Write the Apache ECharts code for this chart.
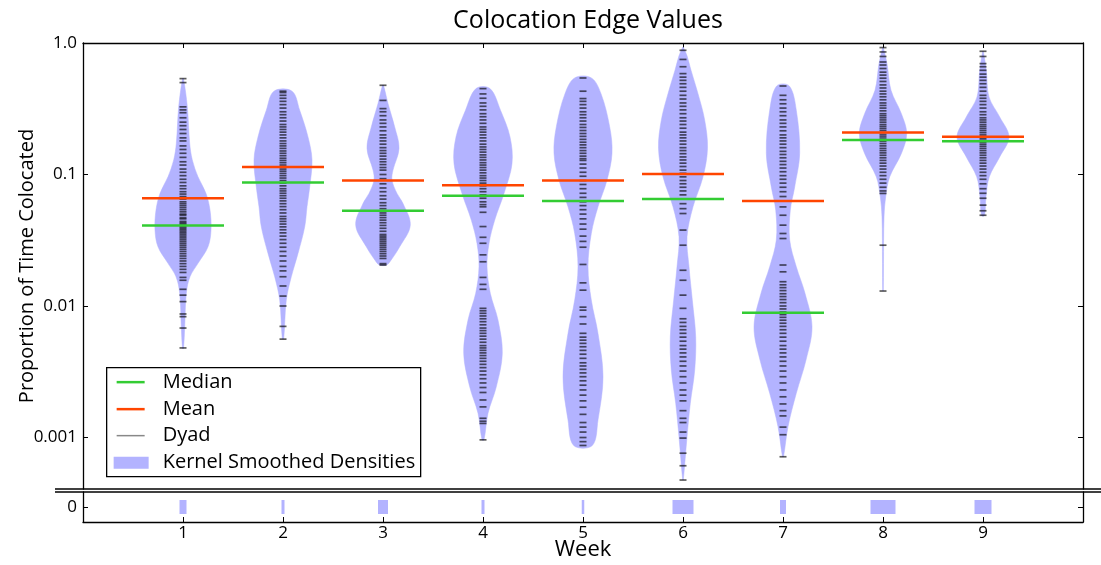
<!DOCTYPE html>
<html><head><meta charset="utf-8">
<script src="https://cdn.jsdelivr.net/npm/echarts@6/dist/echarts.min.js"></script>
<style>html,body{margin:0;padding:0;background:#fff}#c{width:1101px;height:565px}</style>
</head><body><div id="c"></div>
<script>
// ---------------- data ----------------
const weeks = [1, 2, 3, 4, 5, 6, 7, 8, 9];
const medians = [0.041, 0.087, 0.053, 0.069, 0.063, 0.065, 0.0089, 0.183, 0.179];
const means   = [0.066, 0.114, 0.090, 0.083, 0.090, 0.101, 0.063, 0.209, 0.194];
// share of dyads with zero colocation (drawn as bar width in the lower panel)
const zeroShare = [0.07, 0.03, 0.10, 0.03, 0.025, 0.21, 0.06, 0.25, 0.17];
const yTickValues = [0.001, 0.01, 0.1, 1.0];
const yTickLabels = ['0.001', '0.01', '0.1', '1.0'];
const yLowestShown = 0.000406;

// kernel density profiles: [value, half width in week units]
const density1 = [[0.536,0.005],[0.327,0.043],[0.172,0.067],[0.129,0.093],[0.096,0.15],[0.0718,0.23],[0.0536,0.27],[0.0378,0.28],[0.0282,0.25],[0.0211,0.15],[0.0167,0.07],[0.0125,0.033],[0.00695,0.017],[0.00476,0.005]];
const density2 = [[0.43,0.09],[0.308,0.167],[0.193,0.25],[0.129,0.29],[0.0805,0.267],[0.0568,0.24],[0.040,0.217],[0.0251,0.15],[0.0167,0.083],[0.0111,0.033],[0.00564,0.007]];
const density3 = [[0.477,0.005],[0.346,0.05],[0.23,0.117],[0.158,0.16],[0.108,0.10],[0.0906,0.09],[0.0718,0.14],[0.0603,0.20],[0.0412,0.273],[0.0282,0.167],[0.0223,0.08],[0.0205,0.035]];
const density4 = [[0.45,0.07],[0.308,0.175],[0.193,0.27],[0.121,0.29],[0.0718,0.21],[0.045,0.117],[0.0299,0.06],[0.0199,0.04],[0.0125,0.073],[0.00782,0.15],[0.00437,0.193],[0.00243,0.133],[0.00153,0.05],[0.00096,0.01]];
const density5 = [[0.543,0.083],[0.412,0.18],[0.23,0.267],[0.145,0.29],[0.0906,0.24],[0.0568,0.15],[0.0356,0.083],[0.0199,0.05],[0.0111,0.083],[0.00619,0.15],[0.0029,0.20],[0.00136,0.15],[0.00087,0.093]];
const density6 = [[0.93,0.003],[0.80,0.04],[0.621,0.08],[0.412,0.15],[0.259,0.217],[0.158,0.245],[0.096,0.20],[0.0568,0.10],[0.0336,0.04],[0.0199,0.06],[0.0111,0.093],[0.00583,0.127],[0.00326,0.117],[0.00182,0.073],[0.00101,0.04],[0.000475,0.003]];
const density7 = [[0.471,0.063],[0.308,0.133],[0.145,0.167],[0.0805,0.117],[0.0536,0.073],[0.0317,0.067],[0.0199,0.133],[0.0125,0.22],[0.00695,0.29],[0.00388,0.23],[0.00217,0.133],[0.00121,0.05],[0.000714,0.005]];
const density8 = [[0.923,0.003],[0.697,0.04],[0.437,0.08],[0.291,0.183],[0.205,0.237],[0.144,0.183],[0.096,0.067],[0.0676,0.027],[0.0476,0.01],[0.0211,0.005],[0.013,0.003]];
const density9 = [[0.865,0.003],[0.621,0.033],[0.389,0.06],[0.274,0.167],[0.193,0.26],[0.136,0.167],[0.096,0.063],[0.0676,0.03],[0.0488,0.015]];

// individual dyad values (proportion of time colocated)
const dyads1 = [0.536,0.50,0.327,0.31,0.295,0.27,0.25,0.235,0.22,0.205,0.19,0.18,0.165,0.155,0.145,0.135,0.125,0.118,0.11,0.104,0.098,0.092,0.087,0.082,0.078,0.074,0.071,0.068,0.065,0.062,0.060,0.058,0.056,0.054,0.052,0.050,0.049,0.047,0.046,0.044,0.043,0.042,0.041,0.040,0.039,0.038,0.037,0.036,0.035,0.034,0.033,0.032,0.031,0.030,0.029,0.028,0.027,0.026,0.025,0.024,0.023,0.022,0.021,0.020,0.019,0.018,0.0165,0.0157,0.0134,0.0121,0.0108,0.0087,0.0083,0.0068,0.0048];
const dyads2 = [0.43,0.42,0.40,0.38,0.36,0.34,0.32,0.30,0.285,0.27,0.255,0.24,0.23,0.22,0.21,0.20,0.19,0.18,0.172,0.165,0.158,0.151,0.145,0.139,0.133,0.128,0.123,0.118,0.114,0.110,0.106,0.102,0.098,0.094,0.090,0.086,0.082,0.078,0.075,0.072,0.069,0.066,0.063,0.060,0.057,0.054,0.051,0.048,0.046,0.044,0.042,0.040,0.038,0.036,0.034,0.032,0.030,0.028,0.026,0.024,0.022,0.020,0.0185,0.0167,0.0142,0.0119,0.0100,0.0070,0.0056];
const dyads3 = [0.477,0.366,0.317,0.30,0.28,0.26,0.245,0.23,0.215,0.20,0.19,0.18,0.17,0.16,0.152,0.145,0.138,0.131,0.125,0.119,0.113,0.108,0.100,0.093,0.085,0.079,0.074,0.069,0.065,0.061,0.058,0.055,0.053,0.051,0.049,0.047,0.045,0.043,0.041,0.039,0.037,0.035,0.034,0.033,0.032,0.031,0.030,0.029,0.028,0.027,0.026,0.025,0.024,0.023,0.021,0.0205];
const dyads4 = [0.45,0.41,0.38,0.35,0.33,0.31,0.29,0.275,0.26,0.245,0.23,0.22,0.21,0.20,0.19,0.18,0.17,0.162,0.155,0.148,0.141,0.135,0.129,0.123,0.118,0.113,0.108,0.103,0.098,0.094,0.090,0.086,0.082,0.078,0.074,0.070,0.066,0.062,0.059,0.0568,0.0516,0.0402,0.0333,0.030,0.0245,0.0217,0.0165,0.0146,0.0134,0.0096,0.0092,0.0088,0.0084,0.0080,0.0076,0.0072,0.0068,0.0065,0.0062,0.0059,0.0056,0.0053,0.0050,0.0048,0.0046,0.0044,0.0042,0.0040,0.0038,0.0036,0.0034,0.0032,0.0030,0.0028,0.0026,0.0024,0.0022,0.00193,0.00171,0.0014,0.00133,0.00128,0.00096];
const dyads5 = [0.542,0.43,0.378,0.36,0.34,0.32,0.30,0.285,0.27,0.255,0.24,0.228,0.216,0.205,0.195,0.185,0.176,0.168,0.16,0.152,0.145,0.138,0.132,0.128,0.12,0.112,0.104,0.097,0.09,0.084,0.078,0.072,0.067,0.062,0.058,0.054,0.05,0.046,0.042,0.0384,0.034,0.031,0.028,0.0207,0.0150,0.0132,0.0098,0.0093,0.0083,0.0073,0.0062,0.0058,0.0055,0.0052,0.0049,0.0046,0.0043,0.0040,0.0037,0.0035,0.0033,0.0031,0.0029,0.0027,0.0025,0.0023,0.0021,0.0019,0.0017,0.0015,0.0013,0.0012,0.0011,0.0010,0.00093,0.00087];
const dyads6 = [0.88,0.75,0.66,0.585,0.55,0.52,0.49,0.46,0.43,0.40,0.375,0.35,0.33,0.31,0.29,0.27,0.255,0.24,0.225,0.21,0.20,0.19,0.18,0.17,0.16,0.152,0.144,0.136,0.129,0.122,0.115,0.108,0.102,0.096,0.090,0.085,0.080,0.075,0.070,0.065,0.060,0.055,0.0505,0.0378,0.029,0.0187,0.0157,0.0121,0.0096,0.0080,0.0075,0.0070,0.0066,0.0062,0.0058,0.0054,0.0050,0.0047,0.0044,0.0041,0.0038,0.0035,0.0032,0.0029,0.0026,0.0023,0.0021,0.0019,0.0016,0.0014,0.0013,0.0011,0.00099,0.00076,0.00061,0.000475];
const dyads7 = [0.471,0.40,0.37,0.345,0.32,0.30,0.28,0.26,0.245,0.23,0.215,0.20,0.19,0.18,0.17,0.16,0.15,0.142,0.134,0.126,0.119,0.112,0.105,0.098,0.092,0.086,0.080,0.074,0.068,0.063,0.0567,0.049,0.0412,0.0356,0.0326,0.0205,0.0182,0.0153,0.0145,0.0138,0.0131,0.0124,0.0118,0.0112,0.0106,0.0100,0.0095,0.0090,0.0086,0.0082,0.0078,0.0074,0.0070,0.0066,0.0062,0.0058,0.0054,0.0050,0.0047,0.0044,0.0041,0.0038,0.0035,0.0032,0.0029,0.0026,0.0023,0.00204,0.0018,0.0016,0.00146,0.0012,0.00105,0.000714];
const dyads8 = [0.923,0.855,0.79,0.717,0.68,0.64,0.60,0.57,0.54,0.51,0.48,0.455,0.43,0.41,0.39,0.37,0.35,0.335,0.32,0.305,0.29,0.28,0.27,0.26,0.25,0.24,0.232,0.224,0.216,0.208,0.20,0.193,0.186,0.179,0.172,0.165,0.158,0.152,0.146,0.14,0.134,0.128,0.122,0.116,0.11,0.104,0.098,0.092,0.086,0.08,0.075,0.0718,0.029,0.013];
const dyads9 = [0.865,0.79,0.697,0.66,0.62,0.58,0.55,0.52,0.49,0.46,0.43,0.40,0.38,0.36,0.34,0.32,0.30,0.285,0.27,0.26,0.25,0.24,0.232,0.224,0.216,0.208,0.20,0.194,0.188,0.182,0.176,0.17,0.164,0.158,0.152,0.146,0.14,0.134,0.128,0.122,0.116,0.11,0.104,0.098,0.092,0.085,0.078,0.072,0.066,0.0585,0.053,0.049];

const densities = [density1,density2,density3,density4,density5,density6,density7,density8,density9];
const dyads = [dyads1,dyads2,dyads3,dyads4,dyads5,dyads6,dyads7,dyads8,dyads9];

// ---------------- style / layout ----------------
const FONT = '"Open Sans"';
const VIOLIN = '#b3b3ff';
const GREEN = '#33cc33';
const RED = '#ff4500';
const G_LEFT = 83, G_WIDTH = 1000, G_TOP = 43, G_UP_H = 446, G_LOW_TOP = 492, G_LOW_H = 30;
const LINE_HALF = 0.41;

const lg = Math.log10;
const chart = echarts.init(document.getElementById('c'), null, {renderer: 'canvas'});

const dyadData = [];
weeks.forEach((w, i) => dyads[i].forEach(v => dyadData.push([w, lg(v)])));

function hLineSeries(name, values, color, z) {
  return {
    type: 'custom', name, xAxisIndex: 0, yAxisIndex: 0, z, silent: true,
    data: weeks.map((w, i) => [w, lg(values[i])]),
    renderItem(params, api) {
      const w = api.value(0), y = api.value(1);
      const a = api.coord([w - LINE_HALF, y]);
      const b = api.coord([w + LINE_HALF, y]);
      return {type: 'line', shape: {x1: a[0], y1: a[1], x2: b[0], y2: b[1]},
              style: {stroke: color, lineWidth: 2.5}};
    }
  };
}

const axisLineStyle = {show: true, onZero: false, lineStyle: {color: '#000', width: 1.3}};
const tickStyle = {lineStyle: {color: '#000', width: 1}};
const labelStyle = {color: '#000', fontFamily: FONT, fontSize: 17};
const yTicksLog = yTickValues.map(lg);

const option = {
  animation: false,
  backgroundColor: '#fff',
  title: {
    text: 'Colocation Edge Values', left: G_LEFT + G_WIDTH / 2, top: 3, textAlign: 'center',
    textStyle: {fontFamily: FONT, fontSize: 25, fontWeight: 'normal', color: '#000'}
  },
  grid: [
    {left: G_LEFT, top: G_TOP, width: G_WIDTH, height: G_UP_H, containLabel: false, outerBoundsMode: 'none'},
    {left: G_LEFT, top: G_LOW_TOP, width: G_WIDTH, height: G_LOW_H, containLabel: false, outerBoundsMode: 'none'}
  ],
  xAxis: [
    {gridIndex: 0, type: 'value', min: 0, max: 10, position: 'top',
     axisLine: axisLineStyle, splitLine: {show: false},
     axisTick: Object.assign({show: true, inside: true, length: 5, customValues: weeks}, tickStyle),
     axisLabel: {show: false}},
    {gridIndex: 1, type: 'value', min: 0, max: 10, position: 'bottom',
     axisLine: axisLineStyle, splitLine: {show: false},
     axisTick: Object.assign({show: true, inside: true, length: 5, customValues: weeks}, tickStyle),
     axisLabel: Object.assign({customValues: weeks, margin: 3}, labelStyle),
     name: 'Week', nameLocation: 'middle', nameGap: 17, nameMoveOverlap: false,
     nameTextStyle: {fontFamily: FONT, fontSize: 22, color: '#000'}}
  ],
  yAxis: [
    {gridIndex: 0, type: 'value', min: lg(yLowestShown), max: 0, position: 'left',
     axisLine: axisLineStyle, splitLine: {show: false},
     axisTick: Object.assign({show: true, inside: true, length: 5, customValues: yTicksLog}, tickStyle),
     axisLabel: Object.assign({customValues: yTicksLog, margin: 6,
       formatter: v => { let k = 0; yTicksLog.forEach((t, j) => { if (Math.abs(t - v) < Math.abs(yTicksLog[k] - v)) k = j; }); return yTickLabels[k]; }}, labelStyle),
     name: 'Proportion of Time Colocated', nameLocation: 'middle', nameGap: 46, nameRotate: 90, nameMoveOverlap: false,
     nameTextStyle: {fontFamily: FONT, fontSize: 20, color: '#000'}},
    {gridIndex: 0, type: 'value', min: lg(yLowestShown), max: 0, position: 'right',
     axisLine: axisLineStyle, splitLine: {show: false},
     axisTick: Object.assign({show: true, inside: true, length: 5, customValues: yTicksLog}, tickStyle),
     axisLabel: {show: false}},
    {gridIndex: 1, type: 'value', min: -1, max: 1, position: 'left',
     axisLine: axisLineStyle, splitLine: {show: false},
     axisTick: Object.assign({show: true, inside: true, length: 5, customValues: [0]}, tickStyle),
     axisLabel: Object.assign({customValues: [0], margin: 6, formatter: () => '0'}, labelStyle)},
    {gridIndex: 1, type: 'value', min: -1, max: 1, position: 'right',
     axisLine: axisLineStyle, splitLine: {show: false},
     axisTick: Object.assign({show: true, inside: true, length: 5, customValues: [0]}, tickStyle),
     axisLabel: {show: false}}
  ],
  series: [
    {
      type: 'custom', name: 'Kernel Smoothed Densities', xAxisIndex: 0, yAxisIndex: 0, z: 1, silent: true,
      data: weeks.map(w => [w, -1]),
      renderItem(params, api) {
        const i = params.dataIndex, w = weeks[i], prof = densities[i];
        const right = prof.map(([v, hw]) => api.coord([w + hw, lg(v)]));
        const left = prof.slice().reverse().map(([v, hw]) => api.coord([w - hw, lg(v)]));
        return {type: 'polygon', shape: {points: right.concat(left), smooth: 0.35},
                style: {fill: VIOLIN, stroke: VIOLIN, lineWidth: 0.5}};
      }
    },
    {
      type: 'scatter', name: 'Dyad', xAxisIndex: 0, yAxisIndex: 0, z: 2, silent: true,
      symbol: 'rect', symbolSize: [7, 1.7],
      itemStyle: {color: 'rgba(0,0,0,0.8)'},
      data: dyadData
    },
    hLineSeries('Median', medians, GREEN, 3),
    hLineSeries('Mean', means, RED, 4),
    {
      type: 'custom', name: 'Zero', xAxisIndex: 1, yAxisIndex: 2, z: 1, silent: true,
      data: weeks.map((w, i) => [w, 0, zeroShare[i]]),
      renderItem(params, api) {
        const w = api.value(0), bw = api.value(2);
        const a = api.coord([w - bw / 2, 0]);
        const b = api.coord([w + bw / 2, 0]);
        return {type: 'rect', shape: {x: a[0], y: a[1] - 7, width: Math.max(b[0] - a[0], 1.5), height: 14},
                style: {fill: VIOLIN}};
      }
    }
  ],
  graphic: [
    // axis break lines
    {type: 'line', z: 100, shape: {x1: 55, y1: G_TOP + G_UP_H, x2: 1101, y2: G_TOP + G_UP_H}, style: {stroke: '#000', lineWidth: 1.3}},
    {type: 'line', z: 100, shape: {x1: 55, y1: G_LOW_TOP, x2: 1101, y2: G_LOW_TOP}, style: {stroke: '#000', lineWidth: 1.3}},
    // legend
    {type: 'group', left: 106, top: 367, z: 100, children: [
      {type: 'rect', shape: {x: 0, y: 0, width: 314, height: 109}, style: {fill: '#fff', stroke: '#000', lineWidth: 1.3}},
      {type: 'line', shape: {x1: 10, y1: 14.5, x2: 38, y2: 14.5}, style: {stroke: GREEN, lineWidth: 2.5}},
      {type: 'text', x: 56, y: 14.5, style: {text: 'Median', font: '20px ' + FONT, fill: '#000', verticalAlign: 'middle'}},
      {type: 'line', shape: {x1: 10, y1: 41.5, x2: 38, y2: 41.5}, style: {stroke: RED, lineWidth: 2.5}},
      {type: 'text', x: 56, y: 41.5, style: {text: 'Mean', font: '20px ' + FONT, fill: '#000', verticalAlign: 'middle'}},
      {type: 'line', shape: {x1: 10, y1: 68, x2: 38, y2: 68}, style: {stroke: '#888', lineWidth: 1.5}},
      {type: 'text', x: 56, y: 68, style: {text: 'Dyad', font: '20px ' + FONT, fill: '#000', verticalAlign: 'middle'}},
      {type: 'rect', shape: {x: 7, y: 89, width: 35, height: 12}, style: {fill: VIOLIN}},
      {type: 'text', x: 56, y: 94.5, style: {text: 'Kernel Smoothed Densities', font: '20px ' + FONT, fill: '#000', verticalAlign: 'middle'}}
    ]}
  ]
};
chart.setOption(option);
</script>
</body></html>
